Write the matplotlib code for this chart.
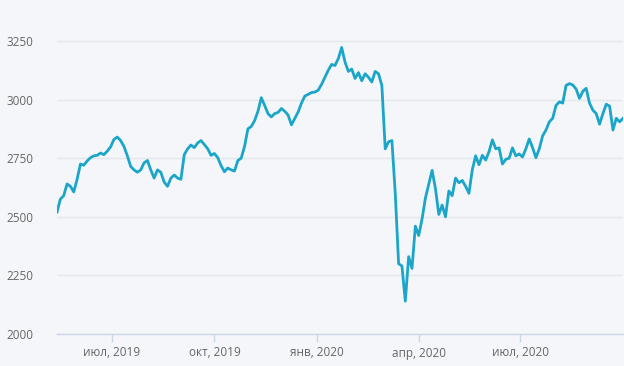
import pandas as pd
import matplotlib
matplotlib.use("Agg")
import matplotlib.pyplot as plt
import matplotlib.dates as mdates

# Index values, one point every 3 days from 13 May 2019
start_date = "2019-05-13"
values = [
    2520, 2575, 2590, 2640, 2630, 2606, 2660, 2725, 2720, 2738,
    2752, 2760, 2762, 2772, 2765, 2780, 2798, 2830, 2840, 2825,
    2800, 2760, 2715, 2700, 2690, 2700, 2730, 2740, 2700, 2665,
    2700, 2690, 2648, 2630, 2665, 2678, 2665, 2660, 2765, 2790,
    2806, 2795, 2815, 2825, 2808, 2790, 2762, 2770, 2752, 2718,
    2692, 2708, 2700, 2695, 2740, 2750, 2800, 2875, 2885, 2910,
    2950, 3008, 2975, 2940, 2926, 2940, 2945, 2962, 2950, 2934,
    2892, 2920, 2947, 2985, 3015, 3022, 3030, 3032, 3040, 3065,
    3095, 3125, 3150, 3145, 3175, 3222, 3160, 3120, 3130, 3090,
    3115, 3080, 3110, 3095, 3075, 3120, 3110, 3060, 2790, 2820,
    2825, 2600, 2300, 2290, 2140, 2330, 2280, 2460, 2420, 2490,
    2580, 2640, 2698, 2620, 2510, 2550, 2500, 2610, 2590, 2665,
    2645, 2655, 2630, 2600, 2700, 2760, 2722, 2762, 2742, 2778,
    2828, 2790, 2794, 2725, 2745, 2750, 2794, 2760, 2768, 2755,
    2790, 2832, 2795, 2752, 2790, 2845, 2870, 2905, 2920, 2975,
    2990, 2985, 3060, 3068, 3062, 3045, 3005, 3035, 3048, 2985,
    2955, 2940, 2895, 2940, 2980, 2972, 2870, 2920, 2905, 2920,
]
dates = pd.date_range(start_date, periods=len(values), freq="3D")

tick_dates = pd.to_datetime(["2019-07-01", "2019-10-01", "2020-01-01",
                             "2020-04-01", "2020-07-01"])
tick_labels = ["июл, 2019", "окт, 2019", "янв, 2020", "апр, 2020", "июл, 2020"]
y_ticks = [2000, 2250, 2500, 2750, 3000, 3250]

bg = "#f4f6f9"
plt.rcParams["font.family"] = ["Open Sans", "DejaVu Sans"]

fig = plt.figure(figsize=(6.24, 3.66), dpi=100, facecolor=bg)
ax = fig.add_axes([57 / 624, 1 - 334 / 366, 566 / 624, (334 - 10) / 366])
ax.set_facecolor(bg)

ax.plot(dates, values, color="#1ba6c9", lw=2.0, solid_joinstyle="round")

ax.set_xlim(pd.Timestamp("2019-05-13"), pd.Timestamp("2020-10-01"))
ax.set_ylim(2000, 3382)

ax.set_yticks(y_ticks)
ax.set_yticklabels([str(v) for v in y_ticks])
ax.set_xticks(tick_dates)
ax.set_xticklabels(tick_labels)

ax.grid(axis="y", color="#e4e7ec", lw=1)
ax.set_axisbelow(True)
for side in ["top", "right", "left"]:
    ax.spines[side].set_visible(False)
ax.spines["bottom"].set_color("#ccd6eb")
ax.spines["bottom"].set_linewidth(1)

ax.tick_params(axis="y", length=0, pad=17, labelsize=8.5, labelcolor="#666666")
ax.tick_params(axis="x", length=6, width=1, color="#ccd6eb", pad=3,
               labelsize=8.5, labelcolor="#666666")

fig.savefig("out.png", dpi=100, facecolor=bg)
